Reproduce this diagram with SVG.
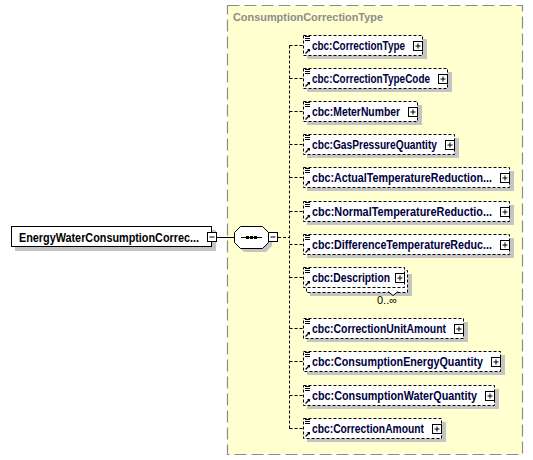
<svg xmlns="http://www.w3.org/2000/svg" width="533" height="460" viewBox="0 0 533 460">
<style>
.bg{fill:#ffffd0;stroke:#8c8c8c;stroke-width:1.2;stroke-dasharray:12,5}
.ttl{font-family:"Liberation Sans",Arial,sans-serif;font-weight:bold;font-size:11.5px;fill:#8c8c8c}
.sh{fill:#c4c4c4}
.el{fill:#ffffff;stroke:#000;stroke-width:1;stroke-dasharray:3,2}
.root{fill:#ffffff;stroke:#000;stroke-width:1}
.t{font-family:"Liberation Sans",Arial,sans-serif;font-weight:bold;font-size:12px;fill:#000040}
.rt{font-family:"Liberation Sans",Arial,sans-serif;font-weight:bold;font-size:12px;fill:#000}
.pm{fill:#fff;stroke:#000;stroke-width:1}
.pl{stroke:#000;stroke-width:1;fill:none}
.cn{stroke:#000;stroke-width:1;fill:none;stroke-dasharray:3,2}
.ic{stroke:#000;stroke-width:1;fill:none}
.occ{font-family:"Liberation Sans",Arial,sans-serif;font-size:11px;fill:#000}
</style>
<defs>
<g id="icon">
<path class="ic" d="M1,1.5h5M1,3.5h5M1,5.5h5"/>
<path d="M1.5,18.5 L5,15" stroke="#000" stroke-width="1.2"/>
<path d="M3,14 L6,14 L6,17 Z" fill="#000"/>
</g>
<g id="plus">
<rect class="pm" x="0.5" y="0.5" width="9" height="9"/>
<path class="pl" d="M2.5,5h5M5,2.5v5"/>
</g>
</defs>
<rect class="bg" x="227.5" y="5.5" width="295" height="449"/>
<text class="ttl" x="233" y="21" textLength="150" lengthAdjust="spacingAndGlyphs">ConsumptionCorrectionType</text>

<g id="connectors">
<path class="pl" d="M217,237.5H234"/>
<path class="cn" d="M278,237.5H289.5M289.5,45.5V428.5"/>
<path class="cn" d="M289.5,45.5H303M289.5,78.5H303M289.5,111.5H303M289.5,144.5H303M289.5,177.5H303M289.5,211.5H303M289.5,244.5H303M289.5,277.5H303M289.5,328.5H303M289.5,361.5H303M289.5,395.5H303M289.5,428.5H303"/>
</g>

<g id="root">
<rect class="sh" x="15" y="230" width="201" height="21"/>
<rect class="root" x="11.5" y="226.5" width="200" height="20"/>
<text class="rt" x="19" y="241.5" textLength="180" lengthAdjust="spacingAndGlyphs">EnergyWaterConsumptionCorrec...</text>
<rect class="pm" x="207.5" y="232.5" width="9" height="9"/>
<path class="pl" d="M209.5,237h5"/>
</g>

<g id="sequence">
<path class="sh" d="M244,230h22l6,6v10l-6,6h-22l-6,-6v-10z"/>
<path fill="#fff" stroke="#000" stroke-width="1" d="M240.5,226.5h22l6,6v10l-6,6h-22l-6,-6v-10z"/>
<path class="pl" d="M241,237.5h21"/>
<rect x="246" y="236" width="3" height="3" fill="#000"/>
<rect x="250" y="236" width="3" height="3" fill="#000"/>
<rect x="254" y="236" width="3" height="3" fill="#000"/>
<rect class="pm" x="268.5" y="232.5" width="9" height="9"/>
<path class="pl" d="M270.5,237h5"/>
</g>

<g id="e1">
<rect class="sh" x="307" y="39" width="120" height="20"/>
<rect class="el" x="303.5" y="35.5" width="119" height="20"/>
<use href="#icon" x="304" y="35"/>
<text class="t" x="312" y="50" textLength="93" lengthAdjust="spacingAndGlyphs">cbc:CorrectionType</text>
<use href="#plus" x="413" y="41"/>
</g>
<g id="e2">
<rect class="sh" x="307" y="72" width="145" height="20"/>
<rect class="el" x="303.5" y="68.5" width="144" height="20"/>
<use href="#icon" x="304" y="68"/>
<text class="t" x="312" y="83" textLength="118" lengthAdjust="spacingAndGlyphs">cbc:CorrectionTypeCode</text>
<use href="#plus" x="438" y="74"/>
</g>
<g id="e3">
<rect class="sh" x="307" y="105" width="115" height="20"/>
<rect class="el" x="303.5" y="101.5" width="114" height="20"/>
<use href="#icon" x="304" y="101"/>
<text class="t" x="312" y="116" textLength="88" lengthAdjust="spacingAndGlyphs">cbc:MeterNumber</text>
<use href="#plus" x="408" y="107"/>
</g>
<g id="e4">
<rect class="sh" x="307" y="138" width="152" height="20"/>
<rect class="el" x="303.5" y="134.5" width="151" height="20"/>
<use href="#icon" x="304" y="134"/>
<text class="t" x="312" y="149" textLength="125" lengthAdjust="spacingAndGlyphs">cbc:GasPressureQuantity</text>
<use href="#plus" x="445" y="140"/>
</g>
<g id="e5">
<rect class="sh" x="307" y="171" width="207" height="20"/>
<rect class="el" x="303.5" y="167.5" width="206" height="20"/>
<use href="#icon" x="304" y="167"/>
<text class="t" x="312" y="182" textLength="180" lengthAdjust="spacingAndGlyphs">cbc:ActualTemperatureReduction...</text>
<use href="#plus" x="500" y="173"/>
</g>
<g id="e6">
<rect class="sh" x="307" y="205" width="207" height="20"/>
<rect class="el" x="303.5" y="201.5" width="206" height="20"/>
<use href="#icon" x="304" y="201"/>
<text class="t" x="312" y="216" textLength="180" lengthAdjust="spacingAndGlyphs">cbc:NormalTemperatureReductio...</text>
<use href="#plus" x="500" y="207"/>
</g>
<g id="e7">
<rect class="sh" x="307" y="238" width="207" height="20"/>
<rect class="el" x="303.5" y="234.5" width="206" height="20"/>
<use href="#icon" x="304" y="234"/>
<text class="t" x="312" y="249" textLength="180" lengthAdjust="spacingAndGlyphs">cbc:DifferenceTemperatureReduc...</text>
<use href="#plus" x="500" y="240"/>
</g>
<g id="e8">
<rect class="sh" x="310" y="274" width="102" height="22"/>
<rect class="el" x="306.5" y="270.5" width="101" height="22"/>
<rect class="el" x="303.5" y="267.5" width="101" height="20"/>
<use href="#icon" x="304" y="267"/>
<text class="t" x="312" y="282" textLength="78" lengthAdjust="spacingAndGlyphs">cbc:Description</text>
<use href="#plus" x="395" y="273"/>
<path d="M388,291.5l5,4l5,-4" fill="#fff" stroke="#000" stroke-width="1"/>
<text class="occ" x="377" y="304">0..∞</text>
</g>
<g id="e9">
<rect class="sh" x="307" y="322" width="161" height="20"/>
<rect class="el" x="303.5" y="318.5" width="160" height="20"/>
<use href="#icon" x="304" y="318"/>
<text class="t" x="312" y="333" textLength="134" lengthAdjust="spacingAndGlyphs">cbc:CorrectionUnitAmount</text>
<use href="#plus" x="454" y="324"/>
</g>
<g id="e10">
<rect class="sh" x="307" y="355" width="198" height="20"/>
<rect class="el" x="303.5" y="351.5" width="197" height="20"/>
<use href="#icon" x="304" y="351"/>
<text class="t" x="312" y="366" textLength="171" lengthAdjust="spacingAndGlyphs">cbc:ConsumptionEnergyQuantity</text>
<use href="#plus" x="491" y="357"/>
</g>
<g id="e11">
<rect class="sh" x="307" y="389" width="192" height="20"/>
<rect class="el" x="303.5" y="385.5" width="191" height="20"/>
<use href="#icon" x="304" y="385"/>
<text class="t" x="312" y="400" textLength="165" lengthAdjust="spacingAndGlyphs">cbc:ConsumptionWaterQuantity</text>
<use href="#plus" x="485" y="391"/>
</g>
<g id="e12">
<rect class="sh" x="307" y="422" width="139" height="20"/>
<rect class="el" x="303.5" y="418.5" width="138" height="20"/>
<use href="#icon" x="304" y="418"/>
<text class="t" x="312" y="433" textLength="112" lengthAdjust="spacingAndGlyphs">cbc:CorrectionAmount</text>
<use href="#plus" x="432" y="424"/>
</g>
</svg>
